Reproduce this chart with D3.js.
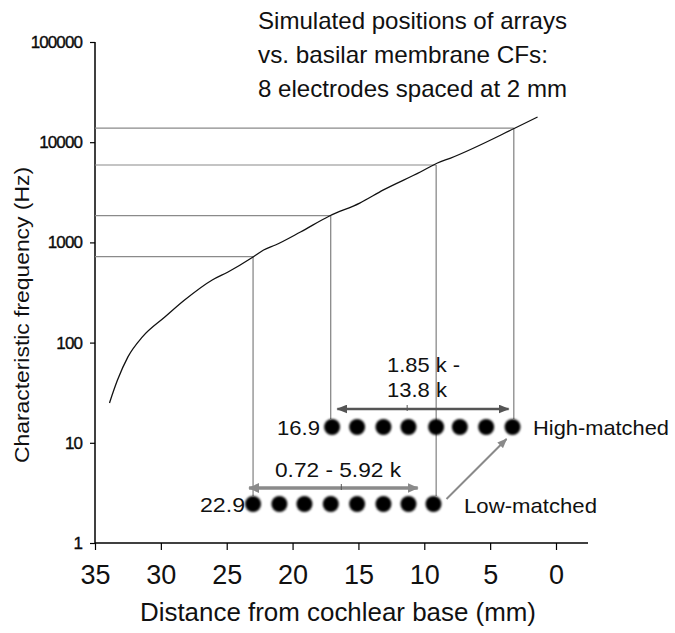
<!DOCTYPE html>
<html><head><meta charset="utf-8">
<script src="https://cdn.jsdelivr.net/npm/d3@7"></script>
<style>body{margin:0;background:#fff}svg{display:block}text{font-family:"Liberation Sans",Arial,Helvetica,sans-serif;fill:#111}</style>
</head><body><svg id="c" width="675" height="633"></svg>
<script>
// ---- data ----
const distances = [33.9,33.3,32.5,31.4,29.7,28.2,26.1,24.9,23.0,22.2,21.3,19.4,17.2,14.9,13.1,10.3,9.0,8.0,3.1,1.4];
const cfValues  = [25,42,72,114,180,266,422,507,715,840,942,1270,1834,2470,3340,5040,6200,6950,13860,17850];
const xTicks = [35,30,25,20,15,10,5,0];
const yTicks = [1,10,100,1000,10000,100000];
const guideFreqs = [13800,5920,1850,720];
const guideDists = [3.2,9.1,17.1,23.0];
const guideRows  = ["high","low","high","low"];
const highElectrodes = [17.0,15.1,13.1,11.2,9.1,7.3,5.3,3.3];
const lowElectrodes  = [23.0,21.0,19.1,17.1,15.1,13.1,11.2,9.3];
const highArrow = [16.6,3.6], highArrowMid = 11.3;
const lowArrow  = [23.3,10.5], lowArrowMid  = 16.3;
const titleLines = ["Simulated positions of arrays","vs. basilar membrane CFs:","8 electrodes spaced at 2 mm"];
const highRangeLabel = ["1.85 k -","13.8 k"];
const lowRangeLabel = "0.72 - 5.92 k";
const highStartLabel = "16.9", lowStartLabel = "22.9";

// ---- layout ----
const svg = d3.select("#c");
const x = d3.scaleLinear().domain([35,0]).range([95,556]);
const y = d3.scaleLog().domain([1,100000]).range([543,42]);
const rowY = {high:427, low:504};
const dotR = 8;

const defs = svg.append("defs");
defs.append("filter").attr("id","blur").attr("x","-50%").attr("y","-50%").attr("width","200%").attr("height","200%")
  .append("feGaussianBlur").attr("stdDeviation",0.9);
function marker(id,color,len,wid){
  defs.append("marker").attr("id",id).attr("markerUnits","userSpaceOnUse")
    .attr("viewBox",`0 ${-wid/2} ${len} ${wid}`).attr("refX",len-1).attr("refY",0)
    .attr("markerWidth",len).attr("markerHeight",wid).attr("orient","auto-start-reverse")
    .append("path").attr("d",`M0,${-wid/2}L${len},0L0,${wid/2}Z`).attr("fill",color);
}
marker("mHigh","#555",11,9);
marker("mLow","#8a8a8a",11,10);
marker("mDiag","#8a8a8a",10,8);

// axes
const gx = svg.append("g").attr("transform","translate(0,543)")
  .call(d3.axisBottom(x).tickValues(xTicks).tickFormat(d3.format("d")).tickSize(7).tickPadding(15));
gx.select(".domain").remove();
gx.selectAll(".tick line").attr("stroke","#000").attr("stroke-width",1.2);
gx.selectAll(".tick text").attr("font-size",27).attr("font-family",'"Liberation Sans",Arial,sans-serif').attr("fill","#111");
svg.append("line").attr("x1",95).attr("x2",588).attr("y1",543).attr("y2",543).attr("stroke","#000").attr("stroke-width",1.5);

const gy = svg.append("g").attr("transform","translate(95,0)")
  .call(d3.axisLeft(y).tickValues(yTicks).tickFormat(d3.format("d")).tickSize(5).tickPadding(8));
gy.select(".domain").remove();
gy.selectAll(".tick line").attr("stroke","#000").attr("stroke-width",1.2);
gy.selectAll(".tick text").attr("font-size",17).attr("letter-spacing","-0.9px")
  .attr("font-family",'"Liberation Sans",Arial,sans-serif').attr("fill","#000")
  .attr("stroke","#000").attr("stroke-width",0.35);
svg.append("line").attr("x1",95).attr("x2",95).attr("y1",42).attr("y2",543).attr("stroke","#000").attr("stroke-width",1.5);

// axis titles
svg.append("text").attr("x",338).attr("y",621).attr("text-anchor","middle").attr("font-size",26)
  .attr("textLength",396).attr("lengthAdjust","spacingAndGlyphs").text("Distance from cochlear base (mm)");
svg.append("text").attr("transform","translate(29,315) rotate(-90)").attr("text-anchor","middle").attr("font-size",20)
  .attr("textLength",296).attr("lengthAdjust","spacingAndGlyphs").text("Characteristic frequency (Hz)");

// title
titleLines.forEach((t,i)=>{
  svg.append("text").attr("x",258).attr("y",29+34*i).attr("font-size",24)
    .attr("textLength",[309,290,309][i]).attr("lengthAdjust","spacingAndGlyphs").text(t);
});

// guide lines
guideFreqs.forEach((f,i)=>{
  const gxp = x(guideDists[i]), gyp = y(f);
  svg.append("line").attr("x1",95).attr("x2",gxp).attr("y1",gyp).attr("y2",gyp).attr("stroke","#8a8a8a").attr("stroke-width",1.2);
  svg.append("line").attr("x1",gxp).attr("x2",gxp).attr("y1",gyp).attr("y2",rowY[guideRows[i]]-dotR).attr("stroke","#666").attr("stroke-width",1);
});

// CF curve
svg.append("path").datum(distances.map((d,i)=>[d,cfValues[i]]))
  .attr("d",d3.line().x(d=>x(d[0])).y(d=>y(d[1])).curve(d3.curveMonotoneX))
  .attr("fill","none").attr("stroke","#111").attr("stroke-width",1.3);

// electrode arrays
function drawArray(pos,row){
  const yy = rowY[row];
  svg.append("line").attr("x1",x(pos[0])).attr("x2",x(pos[pos.length-1])).attr("y1",yy).attr("y2",yy)
    .attr("stroke","#bbb").attr("stroke-width",4).attr("filter","url(#blur)");
  svg.append("g").selectAll("circle").data(pos).join("circle")
    .attr("cx",d=>x(d)).attr("cy",yy).attr("r",dotR).attr("fill","#000").attr("filter","url(#blur)");
}
drawArray(highElectrodes,"high");
drawArray(lowElectrodes,"low");

// range arrows
svg.append("line").attr("x1",x(highArrow[0])).attr("x2",x(highArrow[1])).attr("y1",409).attr("y2",409)
  .attr("stroke","#555").attr("stroke-width",2.5).attr("marker-start","url(#mHigh)").attr("marker-end","url(#mHigh)");
svg.append("line").attr("x1",x(highArrowMid)).attr("x2",x(highArrowMid)).attr("y1",405).attr("y2",411).attr("stroke","#555").attr("stroke-width",1);
svg.append("line").attr("x1",x(lowArrow[0])).attr("x2",x(lowArrow[1])).attr("y1",488).attr("y2",488)
  .attr("stroke","#8a8a8a").attr("stroke-width",3.5).attr("marker-start","url(#mLow)").attr("marker-end","url(#mLow)");
svg.append("line").attr("x1",x(lowArrowMid)).attr("x2",x(lowArrowMid)).attr("y1",484).attr("y2",490).attr("stroke","#555").attr("stroke-width",1);

// diagonal arrow low -> high
const lx = x(lowElectrodes[lowElectrodes.length-1]), hx = x(highElectrodes[highElectrodes.length-1]);
svg.append("line").attr("x1",lx+13).attr("y1",rowY.low-5).attr("x2",hx-6).attr("y2",rowY.high+12)
  .attr("stroke","#8a8a8a").attr("stroke-width",2).attr("marker-end","url(#mDiag)");

// annotation texts
const ann = (t,xx,yy,len,anchor)=>svg.append("text").attr("x",xx).attr("y",yy).attr("font-size",21)
  .attr("text-anchor",anchor||"start").attr("textLength",len).attr("lengthAdjust","spacingAndGlyphs").text(t);
ann(highRangeLabel[0],387,372,73);
ann(highRangeLabel[1],387,397,60);
ann(lowRangeLabel,275,477,126);
ann(highStartLabel,277,435,43);
ann(lowStartLabel,200,512,45);
ann("High-matched",533,435,136);
ann("Low-matched",464,513,133);
</script></body></html>
